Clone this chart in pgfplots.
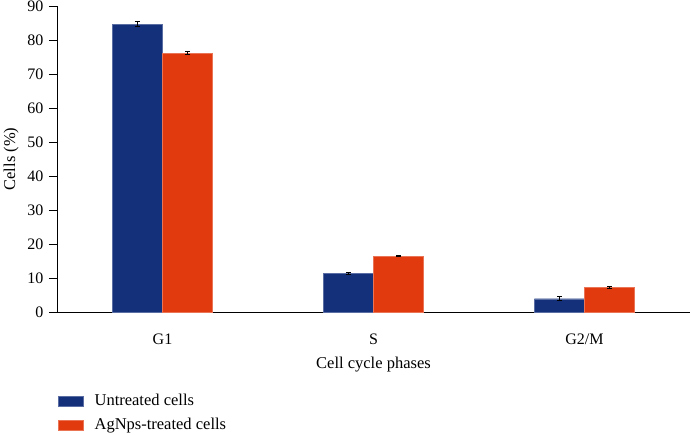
\documentclass[border=0pt]{standalone}
\usepackage{pgfplots}
\pgfplotsset{compat=1.18}
\usepackage{fontspec}
\setmainfont{Liberation Serif}
\definecolor{cblue}{HTML}{14307B}
\definecolor{corange}{HTML}{E03A0E}
\begin{document}
\fontsize{16}{18}\selectfont
\begin{tikzpicture}
\begin{axis}[
  at={(0,0)}, anchor=south west,
  scale only axis, width=633pt, height=306pt,
  xmin=-0.5, xmax=2.5, ymin=0, ymax=90,
  axis x line*=bottom, axis y line*=left,
  ytick={0,10,...,90},
  xtick={0,1,2}, xticklabels={G1,S,G2/M},
  xtick style={draw=none},
  ytick style={black, line width=0.8pt},
  tick align=outside, major tick length=8pt,
  axis line style={black, line width=0.9pt, -},
  /pgf/number format/assume math mode=true,
  ticklabel style={font=\fontsize{16}{18}\selectfont},
  xticklabel style={yshift=-8pt},
  xlabel={Cell cycle phases}, ylabel={Cells (\%)},
  label style={font=\fontsize{16.5}{18}\selectfont},
  xlabel style={yshift=-2pt},
  ylabel style={yshift=-2pt},
  ybar=0pt, bar width=0.237,
  legend cell align=left,
  legend style={at={(0,0)}, anchor=north west, yshift=-78pt, xshift=-2pt, draw=none, fill=none,
     font=\fontsize{16.5}{18}\selectfont, row sep=6pt,
     /tikz/every odd column/.append style={column sep=9pt}},
  legend image code/.code={\fill[#1] (0pt,-5pt) rectangle (25pt,5pt);},
  error bars/error bar style={black, line width=0.9pt},
  error bars/error mark options={black, rotate=90, mark size=2.5pt, line width=0.9pt},
]
\addplot[fill=cblue, draw=cblue!70!white, line width=0.4pt, error bars/.cd, y dir=both, y explicit]
  coordinates {(0,84.7) +- (0,0.8) (1,11.3) +- (0,0.3) (2,3.9) +- (0,0.6)};
\addplot[fill=corange, draw=corange!70!white, line width=0.4pt, error bars/.cd, y dir=both, y explicit]
  coordinates {(0,76.1) +- (0,0.4) (1,16.4) +- (0,0.2) (2,7.2) +- (0,0.3)};
\legend{Untreated cells, AgNps-treated cells}
\end{axis}
\pgfresetboundingbox
\useasboundingbox (-57pt,-122pt) rectangle (633pt,312pt);
\end{tikzpicture}
\end{document}
